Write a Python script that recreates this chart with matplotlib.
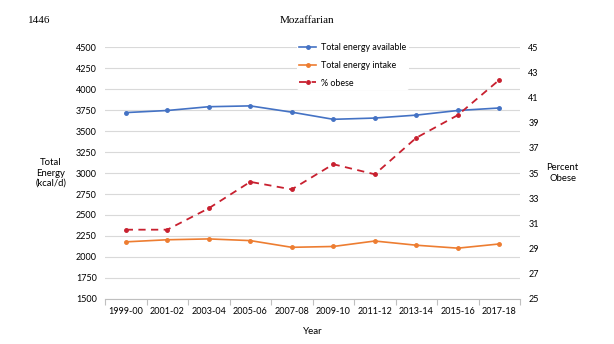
import matplotlib.pyplot as plt
import numpy as np

plt.rcParams['font.family'] = ['Lato', 'DejaVu Sans']

years = ['1999-00', '2001-02', '2003-04', '2005-06', '2007-08',
         '2009-10', '2011-12', '2013-14', '2015-16', '2017-18']
energy_available = [3720, 3745, 3790, 3800, 3725, 3640, 3655, 3690, 3745, 3775]
energy_intake = [2180, 2205, 2215, 2195, 2115, 2125, 2190, 2140, 2105, 2155]
pct_obese = [30.5, 30.5, 32.2, 34.3, 33.7, 35.7, 34.9, 37.8, 39.6, 42.4]

blue = '#4472c4'
orange = '#ed7d31'
red = '#c8202f'

fig = plt.figure(figsize=(6.14, 3.44), dpi=100)
ax = fig.add_axes([0.171, 0.131, 0.676, 0.732])
ax2 = ax.twinx()

x = np.arange(len(years))
l1, = ax.plot(x, energy_available, color=blue, lw=1.2, marker='o', ms=2.5,
              label='Total energy available')
l2, = ax.plot(x, energy_intake, color=orange, lw=1.2, marker='o', ms=2.5,
              label='Total energy intake')
l3, = ax2.plot(x, pct_obese, color=red, lw=1.3, ls=(0, (4, 3)), marker='o',
               ms=2.5, label='% obese')

ax.set_ylim(1500, 4500)
ax.set_yticks(np.arange(1500, 4501, 250))
ax2.set_ylim(25, 45)
ax2.set_yticks(np.arange(25, 46, 2))
ax.set_xlim(-0.5, len(years) - 0.5)
ax.set_xticks(x)
ax.set_xticklabels(years)
ax.set_xticks(np.arange(-0.5, len(years), 1), minor=True)
ax.tick_params(axis='x', which='major', length=0, labelsize=6.5, pad=6)
ax.tick_params(axis='x', which='minor', length=4, color='#bfbfbf', width=0.8)
ax.tick_params(axis='y', length=0, labelsize=6.5, pad=6)
ax2.tick_params(axis='y', length=0, labelsize=6.5, pad=6)

ax.grid(axis='y', color='#d9d9d9', lw=0.8)
ax.set_axisbelow(True)
for a in (ax, ax2):
    for s in ('top', 'left', 'right'):
        a.spines[s].set_visible(False)
    a.spines['bottom'].set_color('#bfbfbf')
ax2.spines['bottom'].set_visible(False)

ax.set_ylabel('Total\nEnergy\n(kcal/d)', rotation=0, fontsize=6.8,
              labelpad=18, va='center', ha='center')
ax2.set_ylabel('Percent\nObese', rotation=0, fontsize=6.8,
               labelpad=17, va='center', ha='center')
ax.set_xlabel('Year', fontsize=7, labelpad=8)

leg = ax2.legend(handles=[l1, l2, l3], loc='upper left',
                 bbox_to_anchor=(0.462, 1.028), fontsize=6.4, frameon=True,
                 framealpha=1, edgecolor='white', handlelength=1.9,
                 handletextpad=0.5, borderpad=0.3, labelspacing=1.0,
                 borderaxespad=0)
leg.get_frame().set_linewidth(0)

fig.text(0.045, 0.94, '1446', family='Liberation Serif', fontsize=8, va='center')
fig.text(0.5, 0.94, 'Mozaffarian', family='Liberation Serif', fontsize=8,
         ha='center', va='center')

fig.savefig('out.png', dpi=100)
